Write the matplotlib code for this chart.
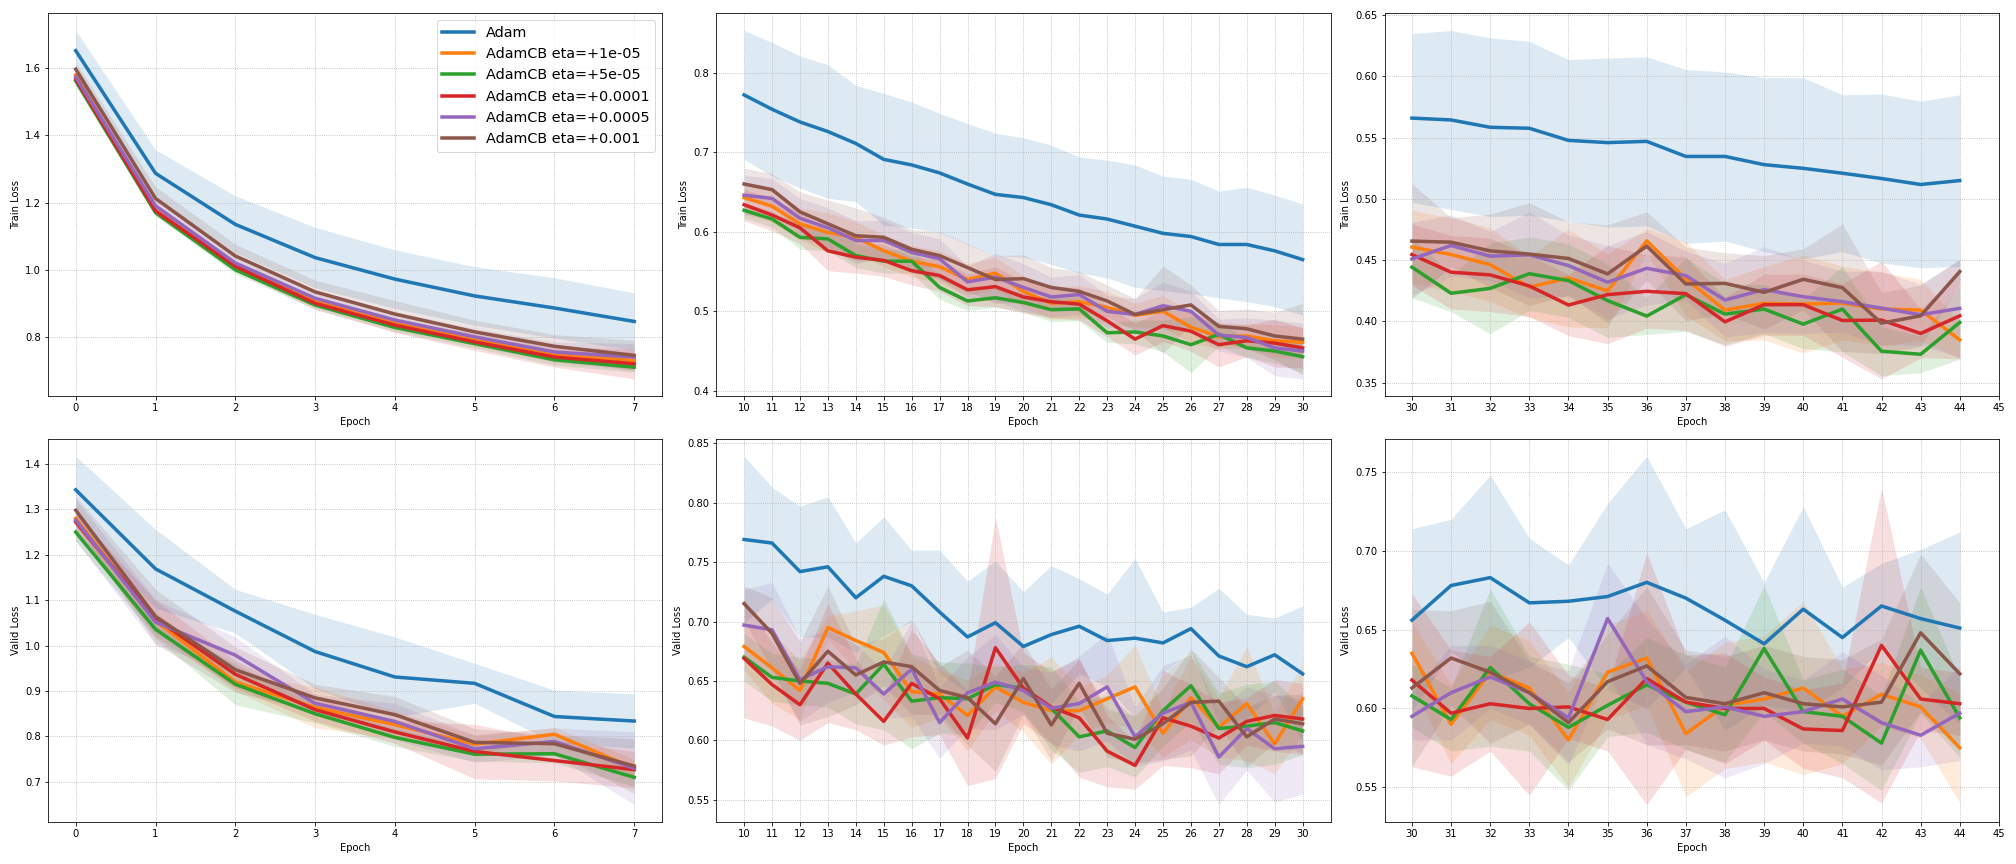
import matplotlib.pyplot as plt
import numpy as np

labels = ['Adam', 'AdamCB eta=+1e-05', 'AdamCB eta=+5e-05',
          'AdamCB eta=+0.0001', 'AdamCB eta=+0.0005', 'AdamCB eta=+0.001']

ep_a = list(range(0, 8))
ep_b = list(range(10, 31))
ep_c = list(range(30, 45))

# Train loss, epochs 0-7 (order: Adam, 1e-05, 5e-05, 0.0001, 0.0005, 0.001)
tr_a_mean = [
    [1.652, 1.287, 1.135, 1.036, 0.972, 0.922, 0.886, 0.846],
    [1.580, 1.175, 1.010, 0.905, 0.840, 0.790, 0.745, 0.730],
    [1.562, 1.170, 1.000, 0.895, 0.828, 0.780, 0.732, 0.710],
    [1.567, 1.175, 1.010, 0.900, 0.835, 0.785, 0.740, 0.720],
    [1.574, 1.190, 1.020, 0.915, 0.850, 0.800, 0.755, 0.740],
    [1.597, 1.212, 1.041, 0.934, 0.868, 0.815, 0.772, 0.745],
]
tr_a_std = [
    [0.060, 0.070, 0.085, 0.090, 0.087, 0.087, 0.090, 0.085],
    [0.015, 0.012, 0.012, 0.012, 0.013, 0.015, 0.018, 0.025],
    [0.015, 0.010, 0.012, 0.012, 0.012, 0.013, 0.016, 0.015],
    [0.012, 0.012, 0.015, 0.018, 0.022, 0.025, 0.030, 0.045],
    [0.020, 0.025, 0.025, 0.025, 0.025, 0.025, 0.030, 0.040],
    [0.020, 0.035, 0.035, 0.035, 0.040, 0.035, 0.035, 0.045],
]

# Train loss, epochs 10-30
tr_b_mean = [
    [0.772, 0.754, 0.738, 0.726, 0.711, 0.691, 0.684, 0.674, 0.660, 0.647, 0.643,
     0.634, 0.621, 0.616, 0.607, 0.598, 0.594, 0.584, 0.584, 0.576, 0.565],
    [0.643, 0.632, 0.610, 0.599, 0.593, 0.576, 0.563, 0.556, 0.540, 0.548, 0.525,
     0.510, 0.512, 0.505, 0.495, 0.500, 0.480, 0.468, 0.469, 0.463, 0.461],
    [0.627, 0.616, 0.593, 0.591, 0.570, 0.563, 0.563, 0.530, 0.513, 0.517, 0.511,
     0.502, 0.503, 0.473, 0.474, 0.469, 0.458, 0.471, 0.454, 0.450, 0.443],
    [0.634, 0.621, 0.605, 0.576, 0.568, 0.564, 0.551, 0.545, 0.527, 0.531, 0.518,
     0.512, 0.509, 0.488, 0.465, 0.482, 0.475, 0.458, 0.463, 0.460, 0.454],
    [0.646, 0.642, 0.617, 0.605, 0.589, 0.589, 0.574, 0.566, 0.537, 0.543, 0.530,
     0.518, 0.521, 0.500, 0.496, 0.507, 0.500, 0.470, 0.467, 0.454, 0.450],
    [0.660, 0.653, 0.625, 0.610, 0.595, 0.593, 0.578, 0.570, 0.555, 0.540, 0.541,
     0.530, 0.525, 0.513, 0.496, 0.502, 0.508, 0.481, 0.478, 0.469, 0.465],
]
tr_b_std = [
    [0.081, 0.084, 0.083, 0.084, 0.073, 0.083, 0.079, 0.075, 0.076, 0.077, 0.075,
     0.075, 0.073, 0.074, 0.077, 0.072, 0.072, 0.067, 0.072, 0.070, 0.070],
    [0.020, 0.020, 0.020, 0.025, 0.020, 0.020, 0.020, 0.020, 0.020, 0.020, 0.020,
     0.020, 0.020, 0.020, 0.015, 0.020, 0.020, 0.015, 0.015, 0.020, 0.020],
    [0.010, 0.010, 0.015, 0.015, 0.015, 0.015, 0.015, 0.015, 0.012, 0.012, 0.012,
     0.015, 0.015, 0.012, 0.015, 0.020, 0.035, 0.015, 0.012, 0.015, 0.020],
    [0.020, 0.020, 0.020, 0.025, 0.020, 0.020, 0.018, 0.020, 0.020, 0.025, 0.020,
     0.020, 0.020, 0.020, 0.020, 0.020, 0.025, 0.028, 0.020, 0.030, 0.025],
    [0.025, 0.025, 0.025, 0.025, 0.025, 0.025, 0.025, 0.025, 0.020, 0.030, 0.030,
     0.025, 0.025, 0.020, 0.020, 0.030, 0.025, 0.020, 0.025, 0.035, 0.035],
    [0.020, 0.020, 0.025, 0.030, 0.035, 0.025, 0.025, 0.030, 0.030, 0.030, 0.030,
     0.025, 0.025, 0.020, 0.020, 0.055, 0.025, 0.020, 0.025, 0.030, 0.045],
]

# Train loss, epochs 30-44
tr_c_mean = [
    [0.566, 0.5645, 0.5585, 0.5577, 0.5478, 0.546, 0.547, 0.5347, 0.5347, 0.528,
     0.525, 0.521, 0.5167, 0.5118, 0.515],
    [0.4607, 0.4546, 0.4464, 0.428, 0.4355, 0.4249, 0.4658, 0.4347, 0.4093, 0.4148,
     0.4142, 0.415, 0.4101, 0.4093, 0.385],
    [0.4443, 0.423, 0.427, 0.439, 0.4333, 0.417, 0.4044, 0.4219, 0.406, 0.4101,
     0.3978, 0.4101, 0.3757, 0.3732, 0.3992],
    [0.4546, 0.4402, 0.438, 0.429, 0.4134, 0.4219, 0.4246, 0.4227, 0.3997, 0.4137,
     0.4137, 0.4008, 0.4011, 0.3902, 0.4046],
    [0.451, 0.462, 0.4533, 0.4544, 0.4456, 0.432, 0.4434, 0.4374, 0.4175, 0.426,
     0.4202, 0.4161, 0.4109, 0.4055, 0.4107],
    [0.4656, 0.4647, 0.4576, 0.455, 0.4514, 0.4388, 0.4615, 0.4306, 0.4311, 0.4238,
     0.4344, 0.4276, 0.3986, 0.4046, 0.4407],
]
tr_c_std = [
    [0.069, 0.073, 0.073, 0.071, 0.066, 0.069, 0.069, 0.071, 0.069, 0.071, 0.074,
     0.064, 0.069, 0.068, 0.070],
    [0.030, 0.030, 0.030, 0.025, 0.040, 0.030, 0.010, 0.030, 0.025, 0.030, 0.040,
     0.030, 0.030, 0.025, 0.015],
    [0.025, 0.015, 0.037, 0.030, 0.030, 0.030, 0.015, 0.030, 0.025, 0.020, 0.020,
     0.035, 0.020, 0.015, 0.030],
    [0.025, 0.030, 0.030, 0.025, 0.025, 0.040, 0.030, 0.030, 0.020, 0.025, 0.025,
     0.030, 0.048, 0.020, 0.035],
    [0.030, 0.025, 0.020, 0.035, 0.025, 0.030, 0.030, 0.020, 0.030, 0.035, 0.030,
     0.025, 0.030, 0.025, 0.040],
    [0.047, 0.020, 0.030, 0.042, 0.030, 0.040, 0.028, 0.030, 0.025, 0.030, 0.025,
     0.052, 0.025, 0.025, 0.010],
]

# Valid loss, epochs 0-7
va_a_mean = [
    [1.343, 1.169, 1.076, 0.987, 0.931, 0.917, 0.844, 0.834],
    [1.280, 1.055, 0.920, 0.864, 0.826, 0.783, 0.805, 0.730],
    [1.250, 1.036, 0.915, 0.850, 0.798, 0.761, 0.762, 0.710],
    [1.272, 1.060, 0.937, 0.859, 0.810, 0.767, 0.747, 0.727],
    [1.276, 1.052, 0.979, 0.873, 0.833, 0.773, 0.789, 0.730],
    [1.298, 1.064, 0.947, 0.885, 0.848, 0.787, 0.784, 0.735],
]
va_a_std = [
    [0.074, 0.087, 0.048, 0.082, 0.088, 0.044, 0.058, 0.060],
    [0.020, 0.020, 0.020, 0.045, 0.030, 0.020, 0.015, 0.020],
    [0.020, 0.020, 0.045, 0.020, 0.020, 0.015, 0.020, 0.020],
    [0.020, 0.040, 0.030, 0.025, 0.025, 0.060, 0.045, 0.040],
    [0.045, 0.050, 0.040, 0.020, 0.040, 0.030, 0.030, 0.080],
    [0.030, 0.060, 0.050, 0.030, 0.040, 0.030, 0.020, 0.060],
]

# Valid loss, epochs 10-30
va_b_mean = [
    [0.769, 0.766, 0.742, 0.746, 0.720, 0.738, 0.730, 0.708, 0.687, 0.699, 0.679,
     0.689, 0.696, 0.684, 0.686, 0.682, 0.694, 0.671, 0.662, 0.672, 0.656],
    [0.679, 0.661, 0.642, 0.695, 0.684, 0.674, 0.641, 0.639, 0.621, 0.645, 0.632,
     0.625, 0.625, 0.635, 0.645, 0.606, 0.636, 0.611, 0.631, 0.597, 0.635],
    [0.670, 0.653, 0.650, 0.648, 0.639, 0.664, 0.633, 0.636, 0.635, 0.647, 0.644,
     0.627, 0.603, 0.608, 0.594, 0.625, 0.646, 0.610, 0.612, 0.615, 0.608],
    [0.669, 0.647, 0.630, 0.665, 0.639, 0.616, 0.648, 0.635, 0.602, 0.678, 0.644,
     0.628, 0.619, 0.591, 0.579, 0.619, 0.612, 0.602, 0.616, 0.621, 0.618],
    [0.697, 0.693, 0.651, 0.662, 0.661, 0.639, 0.660, 0.615, 0.640, 0.649, 0.642,
     0.627, 0.631, 0.645, 0.603, 0.623, 0.632, 0.586, 0.610, 0.593, 0.595],
    [0.715, 0.690, 0.648, 0.675, 0.655, 0.666, 0.662, 0.642, 0.636, 0.614, 0.652,
     0.613, 0.648, 0.606, 0.601, 0.614, 0.632, 0.633, 0.603, 0.618, 0.614],
]
va_b_std = [
    [0.070, 0.047, 0.055, 0.059, 0.046, 0.050, 0.030, 0.052, 0.047, 0.052, 0.046,
     0.058, 0.040, 0.039, 0.067, 0.026, 0.018, 0.057, 0.044, 0.031, 0.057],
    [0.020, 0.030, 0.025, 0.010, 0.025, 0.040, 0.030, 0.020, 0.030, 0.020, 0.025,
     0.045, 0.020, 0.020, 0.035, 0.020, 0.035, 0.025, 0.048, 0.025, 0.030],
    [0.020, 0.020, 0.020, 0.020, 0.025, 0.055, 0.040, 0.030, 0.030, 0.015, 0.020,
     0.035, 0.030, 0.030, 0.025, 0.030, 0.030, 0.030, 0.035, 0.035, 0.020],
    [0.050, 0.035, 0.030, 0.050, 0.030, 0.020, 0.045, 0.030, 0.040, 0.110, 0.030,
     0.030, 0.050, 0.030, 0.020, 0.040, 0.035, 0.030, 0.020, 0.030, 0.030],
    [0.030, 0.040, 0.035, 0.030, 0.020, 0.020, 0.040, 0.030, 0.030, 0.040, 0.020,
     0.030, 0.040, 0.045, 0.025, 0.040, 0.040, 0.040, 0.035, 0.045, 0.040],
    [0.015, 0.030, 0.035, 0.055, 0.025, 0.020, 0.040, 0.020, 0.040, 0.040, 0.030,
     0.030, 0.020, 0.020, 0.020, 0.030, 0.045, 0.020, 0.025, 0.020, 0.025],
]

# Valid loss, epochs 30-44
va_c_mean = [
    [0.656, 0.678, 0.683, 0.667, 0.668, 0.671, 0.680, 0.670, 0.656, 0.641, 0.663,
     0.645, 0.665, 0.657, 0.651],
    [0.635, 0.590, 0.623, 0.613, 0.580, 0.623, 0.632, 0.584, 0.602, 0.606, 0.613,
     0.595, 0.609, 0.601, 0.575],
    [0.608, 0.593, 0.626, 0.603, 0.588, 0.602, 0.615, 0.604, 0.596, 0.638, 0.598,
     0.595, 0.578, 0.637, 0.594],
    [0.618, 0.597, 0.603, 0.600, 0.601, 0.593, 0.619, 0.604, 0.600, 0.600, 0.587,
     0.586, 0.640, 0.606, 0.603],
    [0.595, 0.610, 0.620, 0.610, 0.594, 0.657, 0.617, 0.598, 0.601, 0.595, 0.598,
     0.606, 0.591, 0.583, 0.597],
    [0.613, 0.632, 0.623, 0.610, 0.591, 0.617, 0.627, 0.607, 0.603, 0.610, 0.603,
     0.601, 0.604, 0.648, 0.622],
]
va_c_std = [
    [0.058, 0.042, 0.065, 0.041, 0.023, 0.059, 0.080, 0.044, 0.070, 0.039, 0.065,
     0.032, 0.027, 0.044, 0.061],
    [0.020, 0.025, 0.030, 0.030, 0.030, 0.030, 0.030, 0.040, 0.040, 0.040, 0.055,
     0.030, 0.020, 0.020, 0.035],
    [0.020, 0.020, 0.050, 0.030, 0.040, 0.020, 0.030, 0.030, 0.030, 0.040, 0.020,
     0.030, 0.030, 0.040, 0.025],
    [0.055, 0.040, 0.030, 0.055, 0.020, 0.020, 0.080, 0.030, 0.035, 0.020, 0.025,
     0.030, 0.100, 0.020, 0.020],
    [0.015, 0.030, 0.020, 0.020, 0.030, 0.035, 0.040, 0.030, 0.045, 0.030, 0.020,
     0.030, 0.030, 0.020, 0.030],
    [0.050, 0.030, 0.045, 0.020, 0.025, 0.030, 0.050, 0.030, 0.030, 0.030, 0.030,
     0.030, 0.040, 0.050, 0.045],
]


def draw(ax, epochs, means, stds, ylabel, xticks=None):
    x = np.array(epochs)
    for i, (m, s) in enumerate(zip(means, stds)):
        m = np.array(m)
        s = np.array(s)
        color = 'C%d' % i
        ax.plot(x, m, color=color, lw=3.5, label=labels[i])
        ax.fill_between(x, m - s, m + s, color=color, alpha=0.15, lw=0)
    if xticks is not None:
        ax.set_xticks(xticks)
    ax.set_xlabel('Epoch')
    ax.set_ylabel(ylabel)
    ax.grid(ls=':', color='#b0b0b0')


fig, axes = plt.subplots(2, 3, figsize=(28, 12))

draw(axes[0, 0], ep_a, tr_a_mean, tr_a_std, 'Train Loss', range(0, 8))
draw(axes[0, 1], ep_b, tr_b_mean, tr_b_std, 'Train Loss', range(10, 31))
draw(axes[0, 2], ep_c, tr_c_mean, tr_c_std, 'Train Loss', range(30, 46))
draw(axes[1, 0], ep_a, va_a_mean, va_a_std, 'Valid Loss', range(0, 8))
draw(axes[1, 1], ep_b, va_b_mean, va_b_std, 'Valid Loss', range(10, 31))
draw(axes[1, 2], ep_c, va_c_mean, va_c_std, 'Valid Loss', range(30, 46))

axes[0, 0].legend(loc='upper right', fontsize='x-large', handlelength=2.2)

plt.tight_layout()
plt.savefig('out.png', dpi=72)
